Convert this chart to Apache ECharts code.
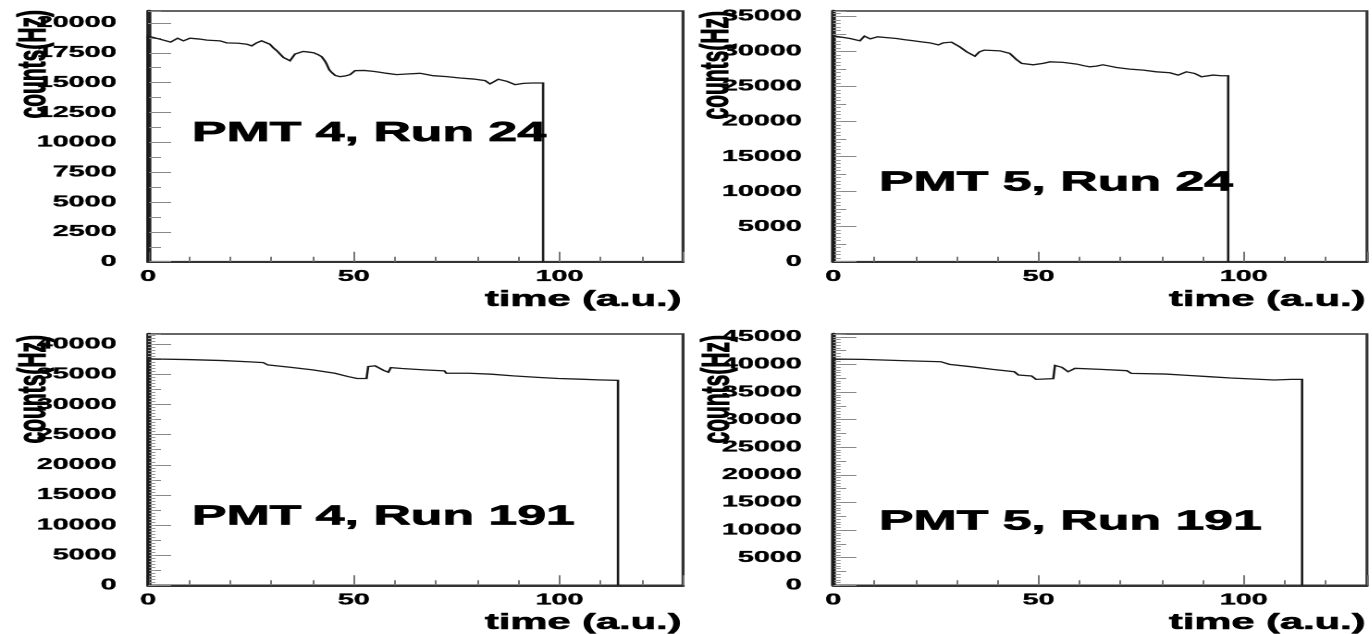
<!DOCTYPE html>
<html>
<head>
<meta charset="utf-8">
<script src="https://cdn.jsdelivr.net/npm/echarts@6/dist/echarts.min.js"></script>
<style>
html,body{margin:0;padding:0;background:#ffffff;overflow:hidden;}
#wrap{width:1372px;height:634px;overflow:hidden;position:relative;background:#fff;}
#chart{width:741.62px;height:634px;transform:scaleX(1.85);transform-origin:0 0;}
</style>
</head>
<body>
<div id="wrap"><div id="chart"></div></div>
<script>
// ---------------- data ----------------
const p1Time   = [0, 2.9, 5.5, 6.2, 7.2, 8.6, 10.2, 12.5, 14.3, 17.5, 19.1, 22.0, 24.0, 25.2, 26.4, 27.6, 28.4, 29.6, 30.5, 31.3, 32.2, 32.9, 34.5, 35.7, 36.5, 37.7, 39.0, 40.2, 41.3, 42.2, 43.0, 43.4, 44.0, 44.6, 45.5, 46.7, 48.0, 49.1, 50.3, 52.5, 54.8, 56.5, 58.0, 60.4, 62.9, 66.1, 67.7, 69.3, 72.6, 75.8, 79.1, 81.9, 83.1, 85.1, 87.2, 89.2, 91.2, 93.5, 96.0];
const p1Counts = [18900, 18640, 18400, 18330, 18720, 18500, 18720, 18650, 18560, 18500, 18330, 18300, 18220, 18080, 18330, 18500, 18500, 18220, 17900, 17670, 17350, 17110, 16830, 17390, 17550, 17610, 17560, 17500, 17350, 17170, 16800, 16560, 16100, 15860, 15600, 15500, 15560, 15670, 16000, 16020, 15940, 15860, 15780, 15670, 15720, 15780, 15680, 15580, 15500, 15390, 15300, 15170, 14890, 15280, 15110, 14830, 14940, 14970, 14970];

const p2Time   = [0, 4.1, 6.5, 7.6, 9.0, 10.8, 13.0, 15.4, 17.5, 19.5, 21.5, 23.5, 25.6, 26.8, 28.8, 30.8, 32.5, 34.5, 35.6, 36.8, 38.8, 40.6, 43.0, 44.6, 45.9, 48.7, 51.1, 52.8, 56.0, 59.3, 61.0, 62.5, 64.1, 65.7, 67.4, 69.0, 72.2, 75.5, 78.7, 82.0, 84.0, 86.0, 88.0, 89.7, 92.5, 94.5, 96.2];
const p2Counts = [32200, 31830, 31500, 32160, 31780, 32070, 31950, 31830, 31650, 31500, 31350, 31210, 30920, 31210, 31310, 30640, 29930, 29310, 29930, 30170, 30120, 30070, 29700, 28840, 28280, 28080, 28280, 28500, 28420, 28180, 27950, 27790, 27890, 28080, 27880, 27700, 27460, 27320, 27080, 26940, 26610, 27080, 26850, 26370, 26610, 26520, 26520];

const p3Time   = [0, 9.6, 18.2, 24.8, 28.0, 29.1, 34.5, 40.0, 45.4, 48.6, 50.8, 53.1, 53.5, 55.2, 57.3, 58.4, 59.0, 61.7, 67.1, 72.0, 72.5, 78.0, 83.4, 88.8, 94.2, 99.7, 105.1, 109.4, 114.2];
const p3Counts = [37570, 37460, 37290, 37070, 36960, 36570, 36190, 35750, 35190, 34640, 34310, 34310, 36300, 36410, 35640, 35360, 36130, 35970, 35750, 35580, 35190, 35190, 35030, 34750, 34530, 34310, 34200, 34090, 34000];

const p4Time   = [0, 7.2, 17.7, 26.2, 28.3, 33.5, 38.8, 44.1, 45.1, 48.3, 49.4, 53.6, 54.0, 55.7, 57.2, 58.9, 65.2, 71.5, 72.6, 81.0, 86.3, 91.6, 96.8, 102.1, 107.4, 111.5, 114.2];
const p4Counts = [40960, 40900, 40660, 40480, 40000, 39580, 39100, 38670, 38070, 37890, 37290, 37410, 39820, 39460, 38670, 39280, 39100, 38860, 38370, 38250, 38010, 37770, 37530, 37350, 37170, 37290, 37290];

const panelTitles = ['PMT 4, Run 24', 'PMT 5, Run 24', 'PMT 4, Run 191', 'PMT 5, Run 191'];
const xTitle = 'time (a.u.)';
const yTitle = 'counts(Hz)';
const xMax = 130;
const xLabelStep = 50;
const xTickStep = 10;
const yMax   = [21000, 35750, 41700, 45500];
const yMajor = [2500, 5000, 5000, 5000];
const yMid   = [1250, 2500, 2500, 2500];
const yFine  = [null, 500, 500, 500];

// ---------------- layout (unstretched px; page is stretched by 1.85 horizontally) ----------------
const gridLeft   = [80.0, 450.4, 80.0, 450.4];
const gridTop    = [11, 11, 334, 334];
const gridWidth  = [289.2, 288.5, 289.2, 288.5];
const gridHeight = [250.7, 250.7, 251.3, 251.3];
const titleX  = [103.8, 475.1, 103.8, 475.1];
const titleY  = [133.5, 182.7, 516.7, 521.7];
const yNameX  = [18.6, 387.8, 18.6, 388.4];
const yNameTop = [10, 11, 335, 335];
const xNameY  = [300, 300, 623, 623];

const FONT = '"Liberation Sans", Arial, Helvetica, sans-serif';

const panels = [
  [p1Time, p1Counts],
  [p2Time, p2Counts],
  [p3Time, p3Counts],
  [p4Time, p4Counts]
];

// histogram outline: rises from 0 at the first edge, falls back to 0 at the last edge
function histData(t, c) {
  const d = [[t[0], 0]];
  for (let i = 0; i < t.length; i++) d.push([t[i], c[i]]);
  d.push([t[t.length - 1], 0]);
  return d;
}

const grids = [], xAxes = [], yAxes = [], series = [], graphics = [];
const labelStyle = {
  color: '#000', fontSize: 15.5, fontWeight: 'bold', fontFamily: FONT,
  textBorderColor: '#000', textBorderWidth: 0.35
};

panels.forEach((p, i) => {
  grids.push({
    left: gridLeft[i], top: gridTop[i], width: gridWidth[i], height: gridHeight[i],
    show: true, borderColor: '#333', borderWidth: 1.6, backgroundColor: '#fff',
    containLabel: false, outerBoundsMode: 'none'
  });
  const xMainIndex = xAxes.length;
  xAxes.push({
    type: 'value', gridIndex: i, min: 0, max: xMax, interval: xTickStep, position: 'bottom',
    axisLine: { show: true, onZero: false, lineStyle: { color: '#333', width: 2 } },
    axisTick: { show: true, inside: true, length: 5, lineStyle: { color: '#777', width: 1 } },
    axisLabel: Object.assign({
      show: true, margin: 7, showMaxLabel: false,
      formatter: v => (v % xLabelStep === 0 ? String(v) : '')
    }, labelStyle),
    splitLine: { show: false }
  });
  xAxes.push({
    type: 'value', gridIndex: i, min: 0, max: xMax, interval: xLabelStep, position: 'bottom',
    axisLine: { show: false, onZero: false },
    axisTick: { show: true, inside: true, length: 10, lineStyle: { color: '#777', width: 1 } },
    axisLabel: { show: false },
    splitLine: { show: false }
  });
  const yMainIndex = yAxes.length;
  yAxes.push({
    type: 'value', gridIndex: i, min: 0, max: yMax[i], interval: yMajor[i], position: 'left',
    axisLine: { show: true, onZero: false, lineStyle: { color: '#222', width: 2.6 } },
    axisTick: { show: true, inside: true, length: 12.5, lineStyle: { color: '#888', width: 1 } },
    axisLabel: Object.assign({
      show: true, margin: 17, showMaxLabel: false,
      formatter: v => String(v)
    }, labelStyle),
    splitLine: { show: false }
  });
  yAxes.push({
    type: 'value', gridIndex: i, min: 0, max: yMax[i], interval: yMid[i], position: 'left',
    axisLine: { show: false, onZero: false },
    axisTick: { show: true, inside: true, length: 7, lineStyle: { color: '#888', width: 1 } },
    axisLabel: { show: false },
    splitLine: { show: false }
  });
  if (yFine[i]) {
    yAxes.push({
      type: 'value', gridIndex: i, min: 0, max: yMax[i], interval: yFine[i], position: 'left',
      axisLine: { show: false, onZero: false },
      axisTick: { show: true, inside: true, length: 4, lineStyle: { color: '#999', width: 1 } },
      axisLabel: { show: false },
      splitLine: { show: false }
    });
  }
  series.push({
    type: 'line', xAxisIndex: xMainIndex, yAxisIndex: yMainIndex,
    data: histData(p[0], p[1]),
    showSymbol: false, symbol: 'none', silent: true, z: 5,
    lineStyle: { color: '#1a1a1a', width: 1.3, join: 'miter' }
  });
  graphics.push({
    type: 'text', x: titleX[i], y: titleY[i], z: 10,
    style: { text: panelTitles[i], fill: '#000', stroke: '#000', lineWidth: 0.7, font: 'bold 28px ' + FONT,
             align: 'left', verticalAlign: 'middle', textAlign: 'left', textVerticalAlign: 'middle' }
  });
  graphics.push({
    type: 'text', x: yNameX[i], y: yNameTop[i], rotation: Math.PI / 2, z: 10,
    style: { text: yTitle, fill: '#000', stroke: '#000', lineWidth: 0.6, font: 'bold 21px ' + FONT,
             align: 'right', verticalAlign: 'middle', textAlign: 'right', textVerticalAlign: 'middle' }
  });
  graphics.push({
    type: 'text', x: gridLeft[i] + gridWidth[i] - 0.8, y: xNameY[i], z: 10,
    style: { text: xTitle, fill: '#000', stroke: '#000', lineWidth: 0.6, font: 'bold 22.5px ' + FONT,
             align: 'right', verticalAlign: 'middle', textAlign: 'right', textVerticalAlign: 'middle' }
  });
});

const chart = echarts.init(document.getElementById('chart'), null, { renderer: 'canvas', devicePixelRatio: 2 });
chart.setOption({
  animation: false,
  backgroundColor: '#ffffff',
  grid: grids,
  xAxis: xAxes,
  yAxis: yAxes,
  series: series,
  graphic: { elements: graphics }
});
</script>
</body>
</html>
